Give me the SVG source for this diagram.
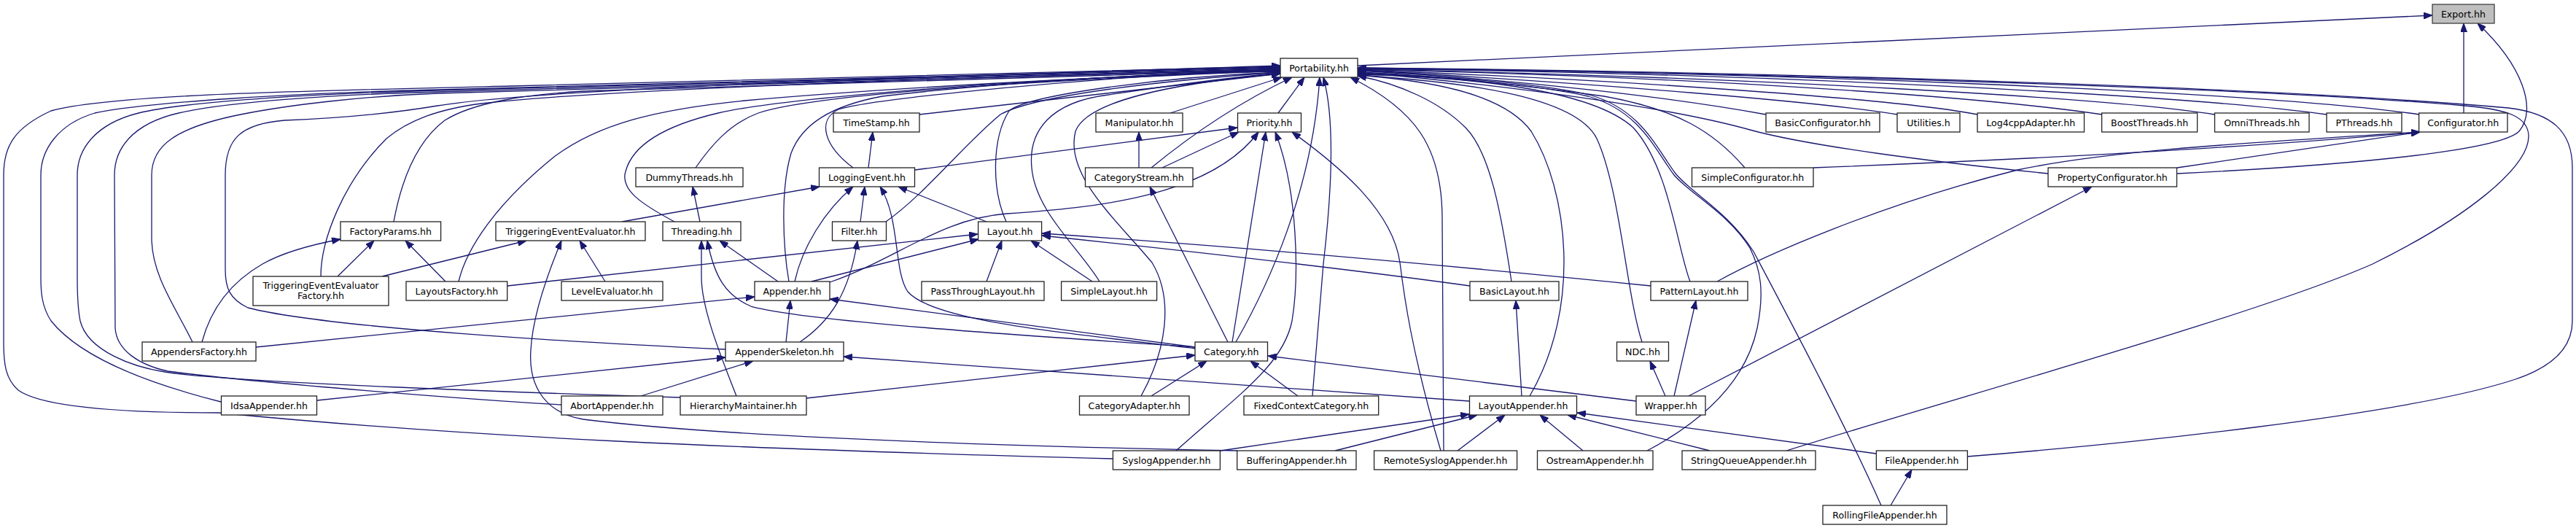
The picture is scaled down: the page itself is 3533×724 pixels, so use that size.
<svg xmlns="http://www.w3.org/2000/svg" width="3533" height="724" viewBox="0 0 3533 724">
<defs>
<marker id="ah" markerWidth="12" markerHeight="9" refX="12" refY="4.5" orient="auto" markerUnits="userSpaceOnUse"><path d="M0,0 L12,4.5 L0,9 z" fill="#191970" stroke="#191970" stroke-width="1"/></marker>
<style>
.e{fill:none;stroke:#191970;stroke-width:1.3;marker-end:url(#ah)}
.n rect{fill:#fff;stroke:#222;stroke-width:1.3}
.n text{font-family:"DejaVu Sans","Liberation Sans",sans-serif;font-size:12.6px;fill:#000;text-anchor:middle}
#export rect{fill:#bfbfbf;stroke:#404040}
</style>
</defs>
<rect width="3533" height="724" fill="#fff"/>
<g id="edges">
<path class="e" d="M1862,90 L3336,21"/>
<path class="e" d="M3379,155 L3379,32"/>
<path class="e" d="M2986,238 C3250,225 3430,205 3455,180 C3480,150 3460,90 3398,32"/>
<path class="e" d="M2986,230 L3319,181"/>
<path class="e" d="M2487,230 Q3000,210 3319,181"/>
<path class="e" d="M2355,386 C2420,350 2580,280 2767,233 C2900,205 3100,195 3319,181"/>
<path class="e" d="M2316,543 L2869,256"/>
<path class="e" d="M2244,550 L1739,488"/>
<path class="e" d="M2284,543 L2263,495"/>
<path class="e" d="M2296,543 L2326,412"/>
<path class="e" d="M2252,469 C2230,400 2222,260 2190,190 C2160,130 2000,112 1862,103"/>
<path class="e" d="M2318,386 C2300,340 2290,230 2240,175 C2180,120 2000,105 1862,102"/>
<path class="e" d="M2098,543 C2170,420 2150,260 2100,180 C2060,125 1950,110 1862,103"/>
<path class="e" d="M2073,386 C2060,300 2045,210 2010,175 C1975,140 1920,115 1862,104"/>
<path class="e" d="M1980,618 L1978,300 C1978,200 1940,150 1852,106"/>
<path class="e" d="M1976,618 C1935,480 1925,400 1920,360 C1910,290 1840,230 1772,181"/>
<path class="e" d="M1613,618 C1700,540 1760,500 1772,440 C1782,380 1780,260 1749,181"/>
<path class="e" d="M1526,629 C1000,615 650,600 300,566 C180,566 60,560 25,535 C8,520 5,500 5,470 L5,240 C5,200 20,175 70,152 C150,130 400,125 700,118 L1756,91"/>
<path class="e" d="M303,551 C200,525 110,490 70,440 C57,420 56,400 56,380 L56,240 C56,205 80,170 130,155 C200,140 400,128 600,123 L1756,92"/>
<path class="e" d="M933,545 C700,538 350,525 240,512 C180,505 120,480 110,440 C106,420 106,400 106,380 L106,240 C106,205 130,170 190,155 C260,138 450,128 600,124 L1756,93"/>
<path class="e" d="M770,555 C650,548 350,525 230,509 C190,500 160,480 158,450 L157,240 C157,205 180,170 245,155 C310,140 450,130 600,126 L1756,94"/>
<path class="e" d="M264,469 C240,420 210,380 208,330 L208,240 C208,200 240,175 330,157 C400,143 500,132 600,128 L1756,95"/>
<path class="e" d="M995,479 C800,470 450,450 340,422 C315,410 309,395 309,370 L309,240 C309,190 330,170 390,165 C470,162 540,155 600,145 C750,120 1300,105 1756,90"/>
<path class="e" d="M440,379 C440,330 470,250 530,190 C560,165 600,150 660,142 C800,125 1300,105 1756,96"/>
<path class="e" d="M540,304 C550,250 570,195 610,165 C650,140 720,130 800,125 L1756,96"/>
<path class="e" d="M629,386 C640,340 680,280 760,215 C820,170 900,150 1021,138 C1200,122 1500,105 1756,97"/>
<path class="e" d="M954,230 C975,200 1000,170 1040,155 C1100,135 1300,115 1756,97"/>
<path class="e" d="M925,304 C880,280 850,260 858,235 C866,205 900,175 985,155 C1050,140 1300,112 1756,96"/>
<path class="e" d="M1082,386 C1074,340 1070,260 1085,210 C1100,170 1140,145 1210,132 C1400,110 1600,100 1756,98"/>
<path class="e" d="M1170,230 C1130,200 1120,165 1150,150 C1200,135 1500,105 1756,95"/>
<path class="e" d="M1215,304 C1270,265 1320,200 1372,157 C1420,130 1600,110 1756,99"/>
<path class="e" d="M1380,304 C1360,260 1360,190 1384,152 C1410,130 1600,105 1756,99"/>
<path class="e" d="M1508,386 C1480,340 1420,290 1415,230 C1410,180 1440,140 1520,130 C1600,118 1700,105 1756,100"/>
<path class="e" d="M1565,543 C1600,480 1610,410 1580,360 C1530,300 1460,240 1475,180 C1490,140 1600,115 1756,101"/>
<path class="e" d="M1261,157 L1756,101"/>
<path class="e" d="M1605,155 L1758,106"/>
<path class="e" d="M1579,230 C1640,180 1700,140 1772,106"/>
<path class="e" d="M1753,155 L1789,106"/>
<path class="e" d="M1695,469 C1740,390 1800,260 1810,106"/>
<path class="e" d="M1800,543 L1815,362 C1828,250 1830,160 1815,106"/>
<path class="e" d="M2580,693 C2530,580 2450,430 2405,345 C2370,290 2320,265 2298,238 C2270,200 2250,150 2180,130 C2100,112 1950,103 1862,101"/>
<path class="e" d="M2259,618 C2340,575 2395,520 2410,450 C2420,400 2415,370 2400,340 C2370,292 2318,266 2296,240 C2268,202 2248,152 2178,132 C2098,114 1950,104 1862,101"/>
<path class="e" d="M2393,230 C2350,180 2300,150 2200,132 C2100,118 1950,102 1862,99"/>
<path class="e" d="M2809,238 C2650,222 2480,200 2400,178 C2300,150 2100,120 1862,99"/>
<path class="e" d="M2422,157 C2300,135 2100,110 1862,97"/>
<path class="e" d="M2602,157 C2500,140 2200,115 1862,96"/>
<path class="e" d="M2712,157 C2600,135 2200,108 1862,96"/>
<path class="e" d="M2883,157 C2700,130 2300,105 1862,95"/>
<path class="e" d="M3037,157 C2900,135 2400,105 1862,95"/>
<path class="e" d="M3191,157 C3000,130 2400,100 1862,94"/>
<path class="e" d="M3318,157 C3100,125 2400,98 1862,94"/>
<path class="e" d="M2450,618 C2700,540 3100,430 3254,362 C3380,300 3470,230 3468,185 C3466,160 3440,150 3380,145 C3100,120 2400,100 1862,93"/>
<path class="e" d="M2698,626 C2900,610 3300,570 3450,520 C3510,500 3528,470 3528,440 L3528,230 C3528,180 3500,155 3440,148 C3100,118 2400,98 1862,93"/>
<path class="e" d="M463,379 L513,330"/>
<path class="e" d="M277,469 C290,420 320,385 360,362 C390,345 430,335 467,328"/>
<path class="e" d="M611,386 L556,330"/>
<path class="e" d="M351,476 L1035,407"/>
<path class="e" d="M524,379 L722,330"/>
<path class="e" d="M696,392 L1341,321"/>
<path class="e" d="M830,386 L795,330"/>
<path class="e" d="M1697,618 C1400,612 1000,600 800,575 C740,565 725,520 728,480 C730,440 745,390 770,330"/>
<path class="e" d="M853,304 L1124,256"/>
<path class="e" d="M960,304 L950,256"/>
<path class="e" d="M1010,543 C985,480 962,420 962,380 L962,330"/>
<path class="e" d="M1640,476 C1400,460 1100,440 1030,420 C995,405 980,380 970,330"/>
<path class="e" d="M1067,386 L987,330"/>
<path class="e" d="M1090,386 C1100,340 1130,290 1170,256"/>
<path class="e" d="M1113,386 L1342,328"/>
<path class="e" d="M1138,387 C1230,355 1290,300 1380,293 C1500,285 1660,270 1726,181"/>
<path class="e" d="M1078,469 L1084,412"/>
<path class="e" d="M1097,469 C1140,440 1165,400 1176,330"/>
<path class="e" d="M435,549 L995,490"/>
<path class="e" d="M879,543 L1033,495"/>
<path class="e" d="M2015,550 L1157,489"/>
<path class="e" d="M1106,546 L1639,487"/>
<path class="e" d="M1639,476 L1138,410"/>
<path class="e" d="M1640,478 C1450,455 1280,440 1245,400 C1225,370 1235,300 1207,256"/>
<path class="e" d="M1684,469 L1577,256"/>
<path class="e" d="M1690,469 L1736,181"/>
<path class="e" d="M1579,543 L1655,495"/>
<path class="e" d="M1780,543 L1715,495"/>
<path class="e" d="M1498,386 L1414,330"/>
<path class="e" d="M1353,386 L1374,330"/>
<path class="e" d="M1353,304 L1232,256"/>
<path class="e" d="M1180,304 L1186,256"/>
<path class="e" d="M1191,230 L1197,181"/>
<path class="e" d="M1255,233 L1697,175"/>
<path class="e" d="M1562,230 L1562,181"/>
<path class="e" d="M1594,230 L1699,181"/>
<path class="e" d="M2016,392 Q1800,362 1429,323"/>
<path class="e" d="M2264,392 Q1800,345 1429,320"/>
<path class="e" d="M2087,543 L2079,412"/>
<path class="e" d="M1999,618 L2064,569"/>
<path class="e" d="M2171,618 L2112,569"/>
<path class="e" d="M2345,618 L2150,569"/>
<path class="e" d="M2573,622 L2163,566"/>
<path class="e" d="M1831,618 L2026,569"/>
<path class="e" d="M1674,618 L2015,568"/>
<path class="e" d="M2593,693 L2622,644"/>
</g>
<g id="export" class="n"><rect x="3336" y="6" width="85" height="26"/><text x="3378.5" y="23.5">Export.hh</text></g>
<g id="portability" class="n"><rect x="1756" y="80" width="106" height="26"/><text x="1809" y="97.5">Portability.hh</text></g>
<g id="timestamp" class="n"><rect x="1143" y="155" width="118" height="26"/><text x="1202" y="172.5">TimeStamp.hh</text></g>
<g id="manipulator" class="n"><rect x="1503" y="155" width="119" height="26"/><text x="1562.5" y="172.5">Manipulator.hh</text></g>
<g id="priority" class="n"><rect x="1697.5" y="155" width="87" height="26"/><text x="1741" y="172.5">Priority.hh</text></g>
<g id="basicconfigurator" class="n"><rect x="2422" y="155" width="156" height="26"/><text x="2500" y="172.5">BasicConfigurator.hh</text></g>
<g id="utilities" class="n"><rect x="2602" y="155" width="86" height="26"/><text x="2645" y="172.5">Utilities.h</text></g>
<g id="log4cppadapter" class="n"><rect x="2712" y="155" width="146.5" height="26"/><text x="2785.25" y="172.5">Log4cppAdapter.hh</text></g>
<g id="boostthreads" class="n"><rect x="2882.6" y="155" width="131" height="26"/><text x="2948.1" y="172.5">BoostThreads.hh</text></g>
<g id="omnithreads" class="n"><rect x="3037.5" y="155" width="129.5" height="26"/><text x="3102.25" y="172.5">OmniThreads.hh</text></g>
<g id="pthreads" class="n"><rect x="3191" y="155" width="103" height="26"/><text x="3242.5" y="172.5">PThreads.hh</text></g>
<g id="configurator" class="n"><rect x="3317.6" y="155" width="121.4" height="26"/><text x="3378.3" y="172.5">Configurator.hh</text></g>
<g id="dummythreads" class="n"><rect x="872" y="230" width="147" height="26"/><text x="945.5" y="247.5">DummyThreads.hh</text></g>
<g id="loggingevent" class="n"><rect x="1123.5" y="230" width="131" height="26"/><text x="1189" y="247.5">LoggingEvent.hh</text></g>
<g id="categorystream" class="n"><rect x="1488.5" y="230" width="147.5" height="26"/><text x="1562.25" y="247.5">CategoryStream.hh</text></g>
<g id="simpleconfigurator" class="n"><rect x="2320.5" y="230" width="166.5" height="26"/><text x="2403.75" y="247.5">SimpleConfigurator.hh</text></g>
<g id="propertyconfigurator" class="n"><rect x="2809" y="230" width="176.5" height="26"/><text x="2897.25" y="247.5">PropertyConfigurator.hh</text></g>
<g id="factoryparams" class="n"><rect x="467" y="304" width="137.6" height="26"/><text x="535.8" y="321.5">FactoryParams.hh</text></g>
<g id="triggeringeventevaluator" class="n"><rect x="680" y="304" width="205" height="26"/><text x="782.5" y="321.5">TriggeringEventEvaluator.hh</text></g>
<g id="threading" class="n"><rect x="909" y="304" width="107" height="26"/><text x="962.5" y="321.5">Threading.hh</text></g>
<g id="filter" class="n"><rect x="1141.5" y="304" width="74" height="26"/><text x="1178.5" y="321.5">Filter.hh</text></g>
<g id="layout" class="n"><rect x="1341.6" y="304" width="87" height="26"/><text x="1385.1" y="321.5">Layout.hh</text></g>
<g id="triggeringeventevaluatorfactory" class="n"><rect x="347" y="379" width="186" height="40"/><text x="440" y="395.5">TriggeringEventEvaluator</text><text x="440" y="410">Factory.hh</text></g>
<g id="layoutsfactory" class="n"><rect x="557" y="386" width="138.7" height="26"/><text x="626.35" y="403.5">LayoutsFactory.hh</text></g>
<g id="levelevaluator" class="n"><rect x="770" y="386" width="139" height="26"/><text x="839.5" y="403.5">LevelEvaluator.hh</text></g>
<g id="appender" class="n"><rect x="1035" y="386" width="103" height="26"/><text x="1086.5" y="403.5">Appender.hh</text></g>
<g id="passthroughlayout" class="n"><rect x="1264" y="386" width="168" height="26"/><text x="1348" y="403.5">PassThroughLayout.hh</text></g>
<g id="simplelayout" class="n"><rect x="1455.6" y="386" width="131" height="26"/><text x="1521.1" y="403.5">SimpleLayout.hh</text></g>
<g id="basiclayout" class="n"><rect x="2016" y="386" width="122" height="26"/><text x="2077" y="403.5">BasicLayout.hh</text></g>
<g id="patternlayout" class="n"><rect x="2264" y="386" width="133" height="26"/><text x="2330.5" y="403.5">PatternLayout.hh</text></g>
<g id="appendersfactory" class="n"><rect x="195" y="469" width="156" height="26"/><text x="273" y="486.5">AppendersFactory.hh</text></g>
<g id="appenderskeleton" class="n"><rect x="995" y="469" width="162" height="26"/><text x="1076" y="486.5">AppenderSkeleton.hh</text></g>
<g id="category" class="n"><rect x="1639" y="469" width="99.5" height="26"/><text x="1688.75" y="486.5">Category.hh</text></g>
<g id="ndc" class="n"><rect x="2217.5" y="469" width="71" height="26"/><text x="2253" y="486.5">NDC.hh</text></g>
<g id="idsaappender" class="n"><rect x="303.5" y="543" width="131" height="26"/><text x="369" y="560.5">IdsaAppender.hh</text></g>
<g id="abortappender" class="n"><rect x="770" y="543" width="139" height="26"/><text x="839.5" y="560.5">AbortAppender.hh</text></g>
<g id="hierarchymaintainer" class="n"><rect x="933" y="543" width="173" height="26"/><text x="1019.5" y="560.5">HierarchyMaintainer.hh</text></g>
<g id="categoryadapter" class="n"><rect x="1480.5" y="543" width="150.5" height="26"/><text x="1555.75" y="560.5">CategoryAdapter.hh</text></g>
<g id="fixedcontextcategory" class="n"><rect x="1706" y="543" width="184.7" height="26"/><text x="1798.35" y="560.5">FixedContextCategory.hh</text></g>
<g id="layoutappender" class="n"><rect x="2015.5" y="543" width="147" height="26"/><text x="2089" y="560.5">LayoutAppender.hh</text></g>
<g id="wrapper" class="n"><rect x="2244" y="543" width="95" height="26"/><text x="2291.5" y="560.5">Wrapper.hh</text></g>
<g id="syslogappender" class="n"><rect x="1526.4" y="618" width="147" height="26"/><text x="1599.9" y="635.5">SyslogAppender.hh</text></g>
<g id="bufferingappender" class="n"><rect x="1696.7" y="618" width="163.3" height="26"/><text x="1778.35" y="635.5">BufferingAppender.hh</text></g>
<g id="remotesyslogappender" class="n"><rect x="1884.6" y="618" width="196" height="26"/><text x="1982.6" y="635.5">RemoteSyslogAppender.hh</text></g>
<g id="ostreamappender" class="n"><rect x="2108.5" y="618" width="158.5" height="26"/><text x="2187.75" y="635.5">OstreamAppender.hh</text></g>
<g id="stringqueueappender" class="n"><rect x="2307" y="618" width="183" height="26"/><text x="2398.5" y="635.5">StringQueueAppender.hh</text></g>
<g id="fileappender" class="n"><rect x="2573.4" y="618" width="125" height="26"/><text x="2635.9" y="635.5">FileAppender.hh</text></g>
<g id="rollingfileappender" class="n"><rect x="2500" y="693" width="170" height="26"/><text x="2585" y="710.5">RollingFileAppender.hh</text></g>
</svg>
